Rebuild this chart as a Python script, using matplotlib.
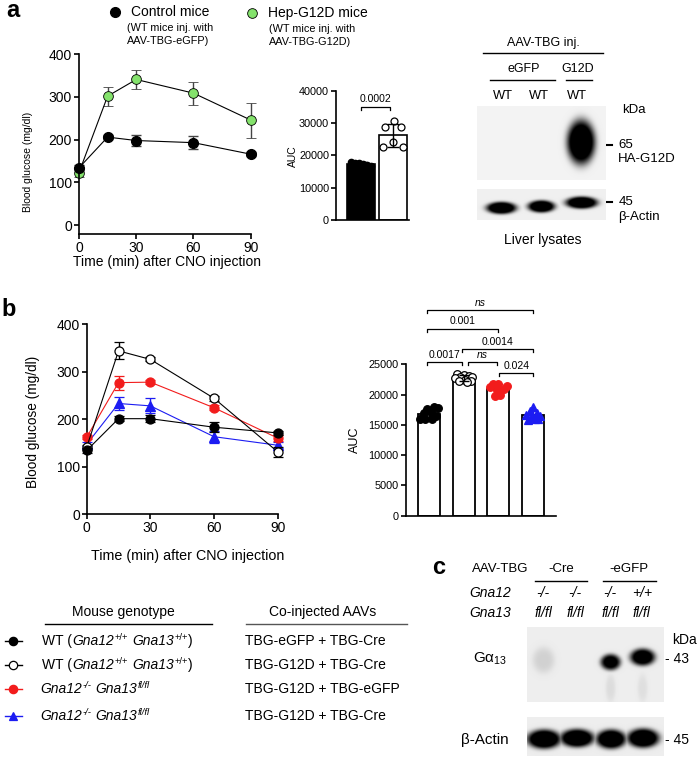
import numpy as np
import matplotlib
matplotlib.use('Agg')
import matplotlib.pyplot as plt

plt.rcParams['font.family'] = ['Liberation Sans', 'DejaVu Sans']
plt.rcParams['mathtext.fontset'] = 'custom'
plt.rcParams['mathtext.rm'] = 'Liberation Sans'
plt.rcParams['mathtext.it'] = 'Liberation Sans:italic'

# ---- data ----
time_min = [0, 15, 30, 60, 90]

# panel a: glucose after CNO
ctrl_mean = [134, 206, 198, 193, 166]
ctrl_sd = [6, 5, 14, 15, 5]
g12d_mean = [123, 302, 341, 309, 246]
g12d_sd = [10, 22, 23, 27, 41]

# panel a: AUC
auc_a_ctrl = [17900, 17700, 17600, 17300, 17000, 16700]
auc_a_g12d = [28800, 30600, 28700, 22700, 24000, 22600]
auc_a_jitter_ctrl = [-0.3, -0.18, -0.06, 0.06, 0.18, 0.3]
auc_a_jitter_g12d = [-0.25, 0.03, 0.26, -0.32, -0.01, 0.32]
auc_a_p = '0.0002'

# panel b: glucose after CNO
wt_egfp_mean = [134, 201, 201, 183, 171]
wt_egfp_sd = [5, 5, 8, 11, 5]
wt_g12d_mean = [141, 344, 326, 244, 131]
wt_g12d_sd = [5, 18, 4, 5, 10]
ko_egfp_mean = [162, 277, 278, 224, 160]
ko_egfp_sd = [4, 15, 4, 5, 6]
ko_cre_mean = [147, 233, 228, 163, 145]
ko_cre_sd = [4, 13, 16, 13, 6]

# panel b: AUC
auc_b = [
    [18000, 17800, 17600, 17200, 16900, 16500, 16200, 16000, 15900, 15900],
    [23400, 23300, 23100, 23000, 22900, 22700, 22500, 22300, 22200, 22100],
    [21800, 21700, 21500, 21200, 21000, 20700, 20000, 19800],
    [18000, 17300, 16900, 16700, 16500, 16300, 16000, 15800, 15900],
]
auc_b_jitter = [
    [0.15, 0.25, -0.05, 0.05, -0.15, 0.2, -0.2, -0.1, 0.1, -0.25],
    [-0.2, 0.0, 0.15, -0.1, 0.25, -0.25, 0.05, 0.2, -0.12, 0.1],
    [-0.15, 0.0, 0.25, -0.25, 0.15, -0.05, 0.05, -0.1],
    [0.0, -0.1, 0.1, -0.2, 0.2, -0.05, 0.05, -0.15, 0.15],
]
sig_b = [(-0.06, 0.96, 25400, '0.0017'), (1.12, 1.97, 25400, 'ns'),
         (2.03, 3.0, 23600, '0.024'), (0.96, 3.0, 27600, '0.0014'),
         (-0.04, 2.0, 30950, '0.001'), (-0.04, 2.98, 34000, 'ns')]

red = '#f21c1c'
blue = '#1c1cf2'
green = '#84e26c'

W, H = 700, 761
fig = plt.figure(figsize=(7, 7.61), dpi=100)


def px_axes(x0, y0, x1, y1):
    return fig.add_axes([x0 / W, 1 - y1 / H, (x1 - x0) / W, (y1 - y0) / H])


def style(ax, fs):
    for s in ['top', 'right']:
        ax.spines[s].set_visible(False)
    for s in ['left', 'bottom']:
        ax.spines[s].set_linewidth(1.2)
    ax.tick_params(direction='out', length=3.5, width=1.2, labelsize=fs, pad=1.5)


def noclip(cont):
    for art in cont.get_children():
        art.set_clip_on(False)


over = fig.add_axes([0, 0, 1, 1])
over.set_xlim(0, W)
over.set_ylim(H, 0)
over.axis('off')


def rich(x, y, parts, fs=10):
    # parts: (text, italic?, superscript?, gap in points before it)
    base = prev = None
    for s, it, sup, gap in parts:
        st = 'italic' if it else 'normal'
        if prev is None:
            prev = base = over.text(x, y, s, fontsize=fs, style=st, va='center')
            continue
        prev = over.annotate(s, xy=(1, 0.42 if sup else 0), xycoords=(prev, base),
                             xytext=(gap, 0), textcoords='offset points',
                             fontsize=fs * 0.68 if sup else fs, style=st, va='bottom')


# ---- panel a: line chart ----
ax = px_axes(79, 54.3, 250.7, 234)
style(ax, 10)
ax.set_xlim(0, 90)
ax.set_ylim(-21, 400)
ax.set_xticks([0, 30, 60, 90])
ax.set_yticks([0, 100, 200, 300, 400])
c = ax.errorbar(time_min, ctrl_mean, yerr=ctrl_sd, fmt='-o', color='k', lw=0.8,
                ms=7, ecolor='#444444', elinewidth=1, capsize=3.5, capthick=1, zorder=3)
noclip(c)
c = ax.errorbar(time_min, g12d_mean, yerr=g12d_sd, fmt='-o', color='k', mfc=green, mec='k',
                mew=0.6, lw=0.8, ms=7, ecolor='#444444', elinewidth=1, capsize=3.5, capthick=1, zorder=2)
noclip(c)
ax.set_ylabel('Blood glucose (mg/dl)', fontsize=7.5, va='center')
ax.yaxis.set_label_coords(-0.297, 0.40)
ax.set_xlabel('Time (min) after CNO injection', fontsize=10, va='center')
ax.xaxis.set_label_coords(0.51, -(262 - 234) / 179.7)

# legend of panel a
over.plot(115, 12, 'o', color='k', ms=7)
over.text(130.7, 12, 'Control mice', fontsize=10, va='center')
over.text(126.7, 27.7, '(WT mice inj. with', fontsize=7.8, va='center')
over.text(126.7, 41, 'AAV-TBG-eGFP)', fontsize=7.8, va='center')
over.plot(252, 12.5, 'o', mfc=green, mec='k', mew=0.6, ms=7)
over.text(268, 13, 'Hep-G12D mice', fontsize=10, va='center')
over.text(269, 29, '(WT mice inj. with', fontsize=7.8, va='center')
over.text(269, 42, 'AAV-TBG-G12D)', fontsize=7.8, va='center')

# ---- panel a: AUC ----
ax = px_axes(336, 90.7, 409, 220)
style(ax, 7.8)
ax.set_xlim(-0.78, 1.5)
ax.set_ylim(0, 40000)
ax.set_yticks(range(0, 40001, 10000))
ax.set_xticks([])
means = [np.mean(auc_a_ctrl), np.mean(auc_a_g12d)]
sds = [np.std(auc_a_ctrl, ddof=1), np.std(auc_a_g12d, ddof=1)]
ax.bar([0, 1], means, width=0.86, color=['k', 'white'], edgecolor='k', lw=1.2, zorder=2)
ax.plot(np.array(auc_a_jitter_ctrl), auc_a_ctrl, 'o', color='k', ms=4.5, zorder=3)
ax.plot(1 + np.array(auc_a_jitter_g12d), auc_a_g12d, 'o', mfc='white', mec='k', mew=0.9, ms=5, zorder=3)
ax.errorbar([0, 1], means, yerr=sds, fmt='none', ecolor='k', elinewidth=1, capsize=4, zorder=4)
ax.plot([0.01, 0.01, 0.9, 0.9], [34100, 35050, 35050, 34100], color='k', lw=0.9, clip_on=False)
ax.text(0.45, 36000, auc_a_p, ha='center', va='bottom', fontsize=7.5)
ax.set_ylabel('AUC', fontsize=7.5, va='center')
ax.yaxis.set_label_coords((293 - 336) / 73, (220 - 156) / 129.3)


# ---- blots ----
def blot(ax, w, h, bands, bg=0.94):
    ss = 4
    yy, xx = np.mgrid[0:h * ss, 0:w * ss] / ss
    dark = np.zeros_like(xx)
    for cx, cy, rx, ry, k in bands:
        r2 = ((xx - cx) / rx) ** 2 + ((yy - cy) / ry) ** 2
        dark = np.maximum(dark, np.minimum(1, k * np.exp(-r2 ** 2)))
    img = bg * (1 - dark)
    ax.imshow(img, cmap='gray', vmin=0, vmax=1, extent=(0, w, h, 0),
              interpolation='bilinear', aspect='auto')
    ax.set_xlim(0, w)
    ax.set_ylim(h, 0)
    ax.axis('off')


blot(px_axes(476.5, 106, 605.5, 180), 129, 74, [(104, 36, 14, 22, 1.4)], bg=0.95)
blot(px_axes(476.5, 189, 605.5, 220), 129, 31,
     [(24.3, 18.8, 15, 6, 1.4), (64.3, 17.3, 13.5, 6, 1.4), (104.5, 13.5, 16, 6, 1.4)])

over.text(543, 43, 'AAV-TBG inj.', fontsize=9, ha='center', va='center')
over.plot([482.7, 603], [53, 53], color='k', lw=1)
over.text(524, 69, 'eGFP', fontsize=9, ha='center', va='center')
over.text(578, 69, 'G12D', fontsize=9, ha='center', va='center')
over.plot([490, 554.7], [80, 80], color='k', lw=1)
over.plot([566, 591.7], [80, 80], color='k', lw=1)
for xl in [503, 539, 577]:
    over.text(xl, 96, 'WT', fontsize=9.3, ha='center', va='center')
over.text(621.7, 110, 'kDa', fontsize=9.5, va='center')
over.plot([606.7, 611.7], [145, 145], color='k', lw=1.5)
over.text(618.3, 145, '65', fontsize=9.5, va='center')
over.text(618.3, 159.3, 'HA-G12D', fontsize=9.5, va='center')
over.plot([606.7, 611.7], [201.7, 201.7], color='k', lw=1.5)
over.text(618.3, 201.7, '45', fontsize=9.5, va='center')
over.text(618.3, 216.7, 'β-Actin', fontsize=9.5, va='center')
over.text(542.7, 240, 'Liver lysates', fontsize=10, ha='center', va='center')

# ---- panel b: line chart ----
ax = px_axes(86.7, 324.3, 277.7, 514)
style(ax, 10)
ax.set_xlim(0, 90)
ax.set_ylim(0, 400)
ax.set_xticks([0, 30, 60, 90])
ax.set_yticks([0, 100, 200, 300, 400])
series_b = [
    (wt_egfp_mean, wt_egfp_sd, 'o', 'k', 'k'),
    (wt_g12d_mean, wt_g12d_sd, 'o', 'k', 'white'),
    (ko_egfp_mean, ko_egfp_sd, 'o', red, red),
    (ko_cre_mean, ko_cre_sd, '^', blue, blue),
]
for i, (m, s, mk, col, fc) in enumerate(series_b):
    c = ax.errorbar(time_min, m, yerr=s, fmt='-' + mk, color=col, mfc=fc, mec=col, mew=0.9,
                    lw=0.8, ms=6.5 if mk == 'o' else 6.8, elinewidth=1, capsize=3.5,
                    capthick=1, zorder=5 - i if i else 6)
    noclip(c)
ax.set_ylabel('Blood glucose (mg/dl)', fontsize=9.8, va='center')
ax.yaxis.set_label_coords((33 - 86.7) / 191, (514 - 422) / 189.7)
ax.set_xlabel('Time (min) after CNO injection', fontsize=10.3, va='center')
ax.xaxis.set_label_coords((188 - 86.7) / 191, -(556 - 514) / 189.7)

# ---- panel b: AUC ----
ax = px_axes(405.7, 364.5, 556, 515.5)
style(ax, 7.8)
ax.set_xlim(-0.664, 3.655)
ax.set_ylim(0, 25000)
ax.set_yticks(range(0, 25001, 5000))
ax.set_xticks([])
auc_styles = [('o', 'k', 'k'), ('o', 'k', 'white'), ('o', red, red), ('^', blue, blue)]
for i, (vals, jit, (mk, col, fc)) in enumerate(zip(auc_b, auc_b_jitter, auc_styles)):
    m = np.mean(vals)
    ax.bar(i, m, width=0.63, color='white', edgecolor='k', lw=1.3, zorder=2)
    ax.plot(i + np.array(jit), vals, mk, mfc=fc, mec=col, mew=0.9, ms=5.5, zorder=3)
    ax.errorbar(i, m, yerr=np.std(vals, ddof=1), fmt='none', ecolor=col,
                elinewidth=1, capsize=3.5, zorder=4)
for x1, x2, yb, lab in sig_b:
    ax.plot([x1, x1, x2, x2], [yb - 500, yb, yb, yb - 500], color='k', lw=0.9, clip_on=False)
    ax.text((x1 + x2) / 2, yb + 350, lab, ha='center', va='bottom', fontsize=7.5,
            style='italic' if lab == 'ns' else 'normal')
ax.set_ylabel('AUC', fontsize=9, va='center')
ax.yaxis.set_label_coords((355 - 405.7) / 150.3, (515.5 - 439.7) / 151)

# ---- panel b: legend table ----
over.text(123.3, 612.3, 'Mouse genotype', fontsize=10, ha='center', va='center')
over.plot([45, 211.7], [624, 624], color='k', lw=1)
over.text(322.3, 612.3, 'Co-injected AAVs', fontsize=10, ha='center', va='center')
over.plot([245.7, 406.7], [624, 624], color='#555555', lw=1)
wt_geno = [('WT (', False, False, 0), ('Gna12', True, False, 0), ('+/+', False, True, 0.3),
           ('Gna13', True, False, 3), ('+/+', False, True, 0.3), (')', False, False, 0.5)]
ko_geno = [('Gna12', True, False, 0), ('-/-', True, True, 0.3),
           ('Gna13', True, False, 3), ('fl/fl', True, True, 0.3)]
legend_geno = [wt_geno, wt_geno, ko_geno, ko_geno]
legend_aav = ['TBG-eGFP + TBG-Cre', 'TBG-G12D + TBG-Cre', 'TBG-G12D + TBG-eGFP', 'TBG-G12D + TBG-Cre']
row_y = [640.7, 665, 689, 715.7]
for geno, aav, yr, (mk, col, fc) in zip(legend_geno, legend_aav, row_y, auc_styles):
    over.plot([5, 22], [yr, yr], color=col, lw=1)
    over.plot(13.3, yr, mk, mfc=fc, mec=col, mew=0.9, ms=6)
    rich(42.3 if geno is wt_geno else 40, yr, geno)
    over.text(245, yr, aav, fontsize=10, va='center')

# ---- panel c ----
over.text(500, 569.3, 'AAV-TBG', fontsize=9.5, ha='center', va='center')
over.text(561.7, 569.3, '-Cre', fontsize=9.5, ha='center', va='center')
over.plot([535, 586.7], [580.7, 580.7], color='k', lw=1)
over.text(629.3, 569.3, '-eGFP', fontsize=9.5, ha='center', va='center')
over.plot([602.7, 656], [580.7, 580.7], color='k', lw=1)
over.text(469.3, 593.3, 'Gna12', fontsize=10, style='italic', va='center')
over.text(469.3, 612.7, 'Gna13', fontsize=10, style='italic', va='center')
lane_c = [543.3, 575, 610, 641.7]
gna12_c = ['-/-', '-/-', '-/-', '+/+']
gna13_c = ['fl/fl', 'fl/fl', 'fl/fl', 'fl/fl']
for xl, g12, g13 in zip(lane_c, gna12_c, gna13_c):
    over.text(xl, 593.3, g12, fontsize=10, style='italic', ha='center', va='center')
    over.text(xl, 612.7, g13, fontsize=10, style='italic', ha='center', va='center')

blot(px_axes(526.5, 626.5, 663.5, 702.5), 137, 76,
     [(16.5, 34, 11, 13, 0.12), (83.5, 36, 10, 8, 1.15), (115.5, 31, 12.5, 8.5, 1.25),
      (83.5, 62, 5, 14, 0.07), (115.5, 62, 5, 14, 0.06)], bg=0.93)
blot(px_axes(526.5, 716.5, 663.5, 756.5), 137, 40,
     [(17, 23, 17, 9.5, 1.4), (50, 22, 17, 9, 1.4), (84, 23, 15, 9.5, 1.4), (116, 22, 16, 9.5, 1.4)],
     bg=0.93)
over.text(490, 659.3, 'Gα$_{13}$', fontsize=11, ha='center', va='center')
over.text(671.7, 640, 'kDa', fontsize=10, va='center')
over.text(665, 659.3, '- 43', fontsize=10, va='center')
over.text(485, 740, 'β-Actin', fontsize=11, ha='center', va='center')
over.text(665, 740, '- 45', fontsize=10, va='center')

# panel letters
over.text(13, 10.5, 'a', fontsize=17, fontweight='bold', ha='center', va='center')
over.text(9, 309, 'b', fontsize=17, fontweight='bold', ha='center', va='center')
over.text(439, 567, 'c', fontsize=17, fontweight='bold', ha='center', va='center')

fig.savefig('out.png', dpi=100)
